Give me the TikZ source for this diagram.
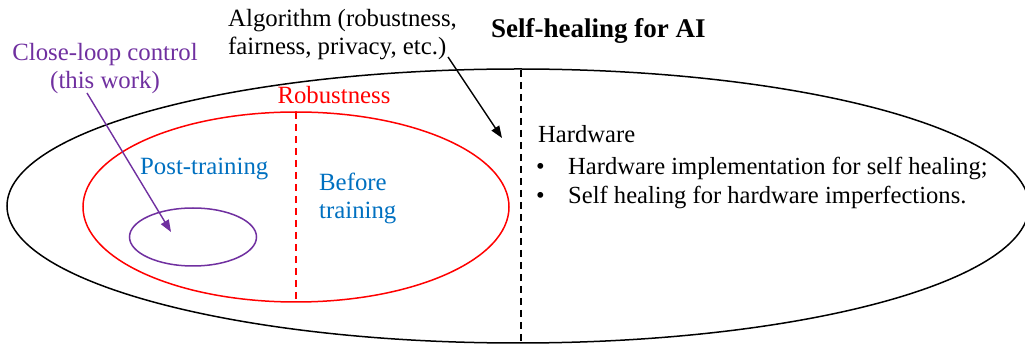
\documentclass[tikz,border=0pt]{standalone}
\usepackage{fontspec}
\setmainfont{Liberation Serif}
\usetikzlibrary{shapes.geometric,arrows.meta}
\definecolor{cpurple}{HTML}{7030A0}
\definecolor{cblue}{HTML}{0070C0}
\definecolor{cred}{HTML}{FF0000}
\begin{document}
\begin{tikzpicture}[x=1pt,y=-1pt,
  txt/.style={inner sep=0pt, anchor=base west, font=\fontsize{24.8}{28}\selectfont},
  ctxt/.style={inner sep=0pt, anchor=base, font=\fontsize{24.8}{28}\selectfont},
  hwtxt/.style={inner sep=0pt, anchor=base west, font=\fontsize{24.6}{28}\selectfont},
  ring/.style={draw, ellipse, inner sep=0pt, line width=1.5pt},
  dashline/.style={line width=1.4pt, dash pattern=on 7pt off 5pt},
  arr/.style={line width=1.4pt, -{Triangle[length=12pt,width=9pt]}}]
\useasboundingbox (0,0) rectangle (1025,344);
\clip (0,0) rectangle (1025,344);
% outer ellipse
\node[ring, black, minimum width=1022pt, minimum height=274pt] (outer) at (518,206) {};
\draw[dashline, black] (521,70) -- (521,344);
% red ellipse
\node[ring, cred, minimum width=426pt, minimum height=190pt] (robust) at (296,207) {};
\draw[dashline, cred] (296,112) -- (296,301);
% purple ellipse
\node[ring, cpurple, minimum width=127pt, minimum height=58pt] (plc) at (193,237) {};
% texts
\node[txt] (algo1) at (228,27) {Algorithm (robustness,};
\node[txt] (algo2) at (228,55) {fairness, privacy, etc.)};
\node[inner sep=0pt, anchor=base west, font=\fontsize{27}{30}\selectfont\bfseries] (title) at (491,38) {Self-healing for AI};
\node[ctxt, cpurple] (cl1) at (105,61) {Close-loop control};
\node[ctxt, cpurple] (cl2) at (105,89) {(this work)};
\node[ctxt, cred] (rob) at (334,104) {Robustness};
\node[txt, cblue] (post) at (140,175) {Post-training};
\node[txt, cblue] (bef1) at (319,191) {Before};
\node[txt, cblue] (bef2) at (319,219) {training};
\node[hwtxt] (hw) at (538,143) {Hardware};
\node[hwtxt] (b1) at (536,175) {\textbullet};
\node[hwtxt] (hw1) at (568,175) {Hardware implementation for self healing;};
\node[hwtxt] (b2) at (536,204) {\textbullet};
\node[hwtxt] (hw2) at (568,204) {Self healing for hardware imperfections.};
% arrows
\coordinate (as) at (448,57);
\coordinate (ae) at (502,138);
\draw[arr, black] (as) -- (ae);
\coordinate (ps) at (87,93);
\coordinate (pe) at (171,232);
\draw[arr, cpurple] (ps) -- (pe);
\end{tikzpicture}
\end{document}
